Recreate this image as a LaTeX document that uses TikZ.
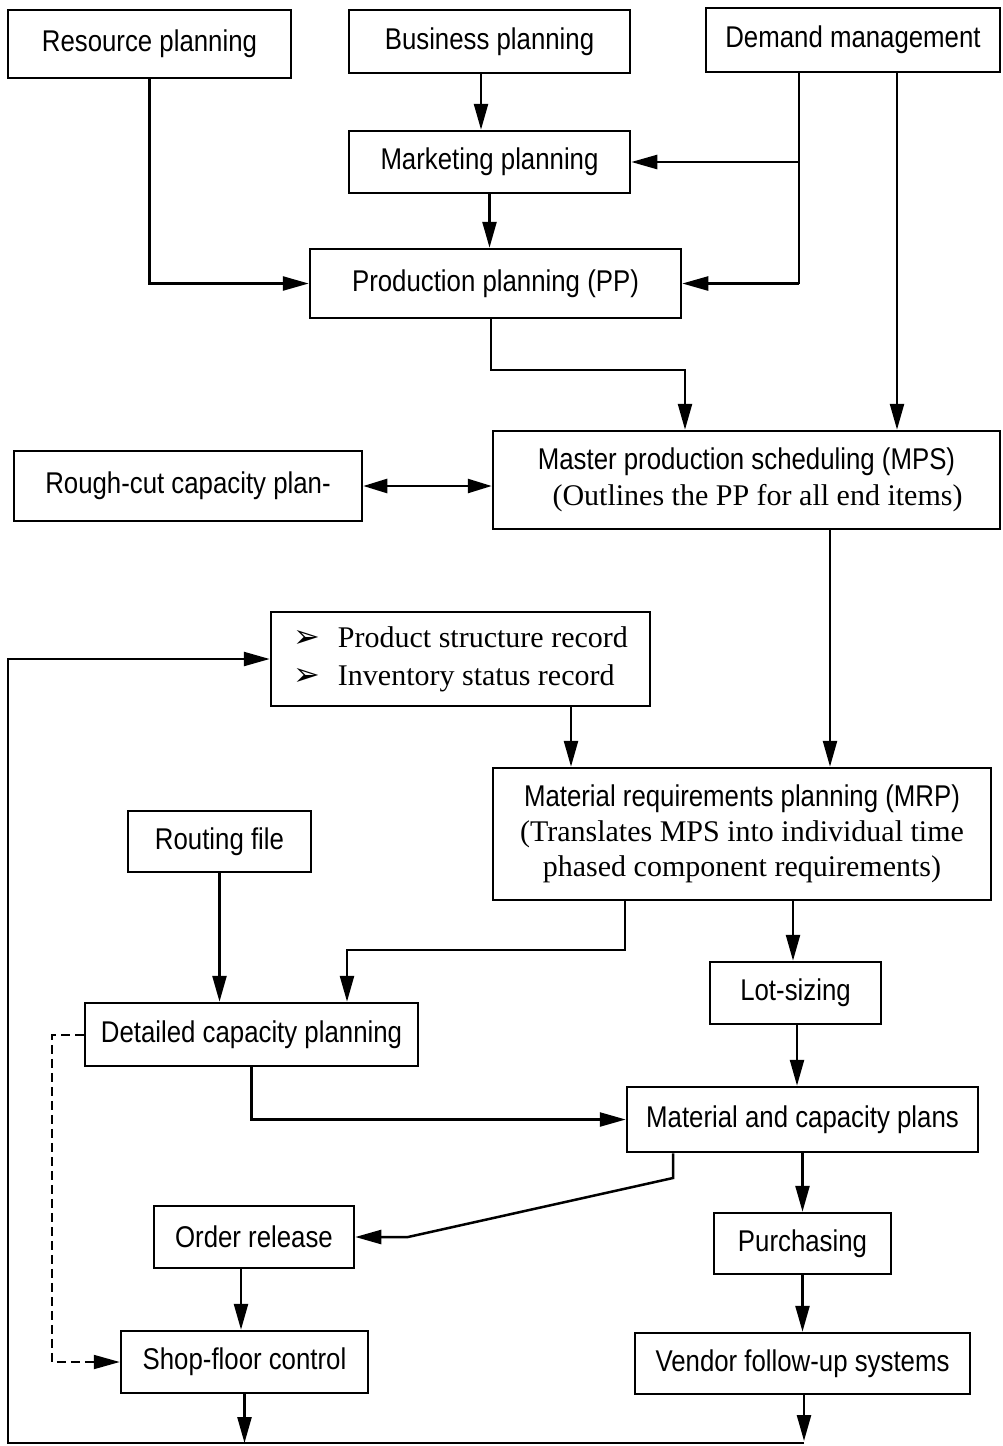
\documentclass[tikz,border=0pt]{standalone}
\usepackage{fontspec}
\usetikzlibrary{arrows.meta,calc}
\newfontfamily\boxsans{Liberation Sans}[FakeStretch=0.86]
\newfontfamily\boxserif{Liberation Serif}
\newfontfamily\symfnt{DejaVu Sans Bold}
\begin{document}
\begin{tikzpicture}[x=1pt,y=-1pt,
  box/.style={draw, line width=2.5pt, inner sep=0pt, align=center,
    font=\boxsans\fontsize{30}{36}\selectfont},
  conn/.style={draw, line width=2.5pt},
  arr/.style={conn, -{Triangle[length=26pt,width=14pt]}},
  arrtwo/.style={conn, {Triangle[length=24pt,width=14pt]}-{Triangle[length=24pt,width=14pt]}},
  dasharr/.style={draw, line width=2pt, dash pattern=on 9pt off 5pt, -{Triangle[length=26pt,width=14pt]}}]
\useasboundingbox (0,0) rectangle (1002,1446);
% nodes
\node[box, minimum width=283pt, minimum height=68pt] (res) at (149.5,44) {Resource planning};
\node[box, minimum width=281pt, minimum height=63pt] (bus) at (489.5,41.5) {Business planning};
\node[box, minimum width=294pt, minimum height=64pt] (dem) at (853,40) {Demand management};
\node[box, minimum width=281pt, minimum height=62pt] (mkt) at (489.5,162) {Marketing planning};
\node[box, minimum width=371pt, minimum height=69pt] (pp) at (495.5,283.5) {Production planning (PP)};
\node[box, minimum width=507pt, minimum height=98pt] (mps) at (746.5,480) {Master production scheduling (MPS)\\\hspace*{22pt}{\boxserif (Outlines the PP for all end items)}};
\node[box, minimum width=348pt, minimum height=70pt] (rough) at (188,486) {Rough-cut capacity plan-};
\node[box, minimum width=379pt, minimum height=94pt, align=left, font=\boxserif\fontsize{30}{38}\selectfont] (psr) at (460.5,659) {{\symfnt\fontsize{32}{38}\selectfont ➢}\hspace{18pt}Product structure record\\{\symfnt\fontsize{32}{38}\selectfont ➢}\hspace{18pt}Inventory status record};
\node[box, minimum width=498pt, minimum height=132pt, font=\boxsans\fontsize{30}{35}\selectfont] (mrp) at (742,834) {Material requirements planning (MRP)\\{\boxserif (Translates MPS into individual time}\\{\boxserif phased component requirements)}};
\node[box, minimum width=183pt, minimum height=61pt] (rout) at (219.5,841.5) {Routing file};
\node[box, minimum width=171pt, minimum height=62pt] (lot) at (795.5,993) {Lot-sizing};
\node[box, minimum width=333pt, minimum height=63pt] (det) at (251.5,1034.5) {Detailed capacity planning};
\node[box, minimum width=351pt, minimum height=65pt] (mat) at (802.5,1119.5) {Material and capacity plans};
\node[box, minimum width=200pt, minimum height=62pt] (ord) at (254,1237) {Order release};
\node[box, minimum width=177pt, minimum height=61pt] (pur) at (802.5,1243.5) {Purchasing};
\node[box, minimum width=247pt, minimum height=62pt] (shop) at (244.5,1362) {Shop-floor control};
\node[box, minimum width=335pt, minimum height=61pt] (ven) at (802.5,1363.5) {Vendor follow-up systems};
% helper coordinates
\coordinate (xa) at (481,0);
\coordinate (d1) at (799,0);
\coordinate (d2) at (897,0);
\coordinate (p1) at (491,370);
\coordinate (p2) at (685,370);
\coordinate (m1) at (830,0);
\coordinate (m2) at (571,0);
\coordinate (fbl) at (8,1443);
\coordinate (fbr) at (804,1443);
\coordinate (r1) at (625,950);
\coordinate (r2) at (347,950);
\coordinate (l1) at (793,0);
\coordinate (l2) at (797,0);
\coordinate (o1) at (673,1178);
\coordinate (o2) at (408,1237);
\coordinate (s1) at (241,0);
\coordinate (dl) at (52,0);
% connectors
\draw[arr] (bus.south -| xa) -- (mkt.north -| xa);
\draw[arr] (mkt.south) -- (mkt.south |- pp.north);
\draw[arr] (res.south) |- (pp.west);
\draw[conn] (dem.south -| d1) -- (d1 |- pp.east);
\draw[arr] (d1 |- mkt.east) -- (mkt.east);
\draw[arr] (d1 |- pp.east) -- (pp.east);
\draw[arr] (dem.south -| d2) -- (mps.north -| d2);
\draw[arr] (pp.south -| p1) -- (p1) -- (p2) -- (mps.north -| p2);
\draw[arrtwo] (rough.east) -- (rough.east -| mps.west);
\draw[arr] (mps.south -| m1) -- (mrp.north -| m1);
\draw[arr] (psr.south -| m2) -- (mrp.north -| m2);
\draw[arr] (fbr) -- (fbl) -- (fbl |- psr.west) -- (psr.west);
\draw[arr] (rout.south) -- (rout.south |- det.north);
\draw[arr] (mrp.south -| r1) -- (r1) -- (r2) -- (det.north -| r2);
\draw[arr] (mrp.south -| l1) -- (lot.north -| l1);
\draw[arr] (lot.south -| l2) -- (mat.north -| l2);
\draw[arr] (det.south) |- (mat.west);
\draw[arr] (mat.south -| o1) -- (o1) -- (o2) -- (ord.east);
\draw[arr] (mat.south) -- (pur.north);
\draw[arr] (ord.south -| s1) -- (shop.north -| s1);
\draw[arr] (pur.south) -- (ven.north);
\draw[dasharr] (det.west) -- (det.west -| dl) -- (dl |- shop.west) -- (shop.west);
\draw[arr] (shop.south) -- (shop.south |- fbl);
\draw[arr] (ven.south -| fbr) -- ([yshift=2pt]fbr);
\end{tikzpicture}
\end{document}
